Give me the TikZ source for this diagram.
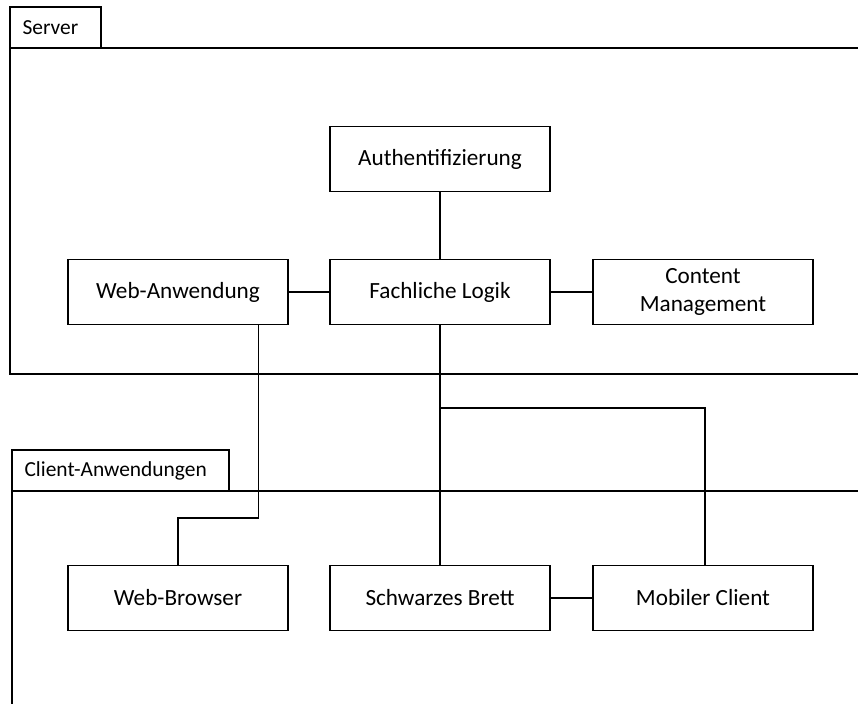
\documentclass[tikz,border=0pt]{standalone}
\usepackage{fontspec}
\setmainfont{Carlito}
\usepackage{tikz}

\begin{document}
\begin{tikzpicture}[x=0.02cm, y=-0.02cm, line width=0.8pt,
    comp/.style={draw, minimum width=4.4cm, minimum height=1.3cm, font=\fontsize{13.2}{15.5}\selectfont, align=center},
    tab/.style={font=\fontsize{12.2}{14}\selectfont, anchor=west}]
    \useasboundingbox (0,0) rectangle (858,704);

    % server package
    \draw (10,48) -- (10,7) -- (101,7) -- (101,48);
    \draw (858,48) -- (10,48) -- (10,374) -- (858,374);
    \node[tab] (servertab) at (16,28) {Server};

    % client package
    \draw (12,491) -- (12,450) -- (229,450) -- (229,491);
    \draw (858,491) -- (12,491) -- (12,704);
    \node[tab] (clienttab) at (18,471) {Client-Anwendungen};

    \node[comp] (auth) at (440,159) {Authentifizierung};
    \node[comp] (webapp) at (178,292) {Web-Anwendung};
    \node[comp] (logic) at (440,292) {Fachliche Logik};
    \node[comp] (cms) at (703,292) {Content\\Management};

    \node[comp] (browser) at (178,598) {Web-Browser};
    \node[comp] (board) at (440,598) {Schwarzes Brett};
    \node[comp] (mobile) at (703,598) {Mobiler Client};

    \draw (auth) -- (logic);
    \draw (webapp) -- (logic);
    \draw (logic) -- (cms);
    \draw (board) -- (mobile);

    \draw ([xshift=-0.6cm]webapp.south east) -- ++(0cm,-3.86cm) -| (browser.north);
    \draw (logic.south) -- (board.north);
    \path (logic.south) ++(0cm,-1.66cm) coordinate (split);
    \draw (split) -| ([xshift=0.04cm]mobile.north);
\end{tikzpicture}
\end{document}
